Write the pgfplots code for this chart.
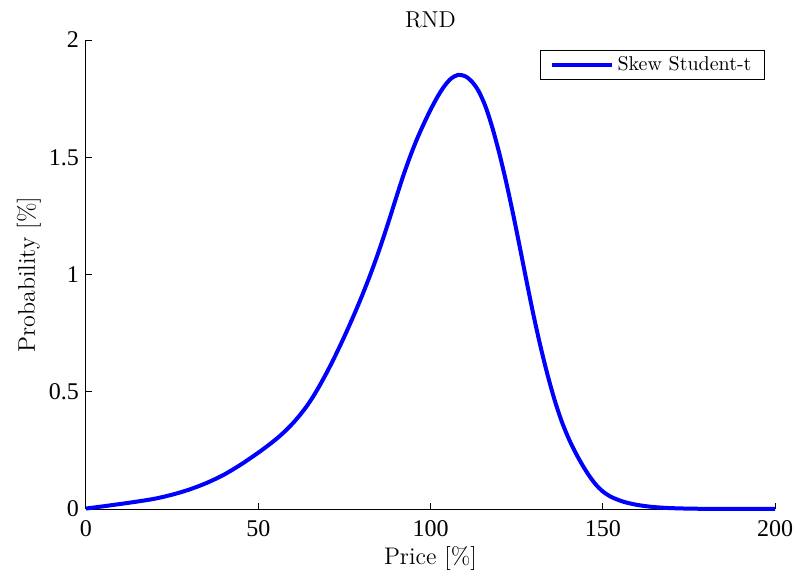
\documentclass[border=0pt]{standalone}
\usepackage{fontspec}
\newfontfamily\timesfont{Liberation Serif}
\usepackage{pgfplots}
\pgfplotsset{compat=1.18}
\begin{document}
\begin{tikzpicture}
\begin{axis}[
  scale only axis,
  width=344.5pt, height=234.5pt,
  xmin=0, xmax=200, ymin=0, ymax=2,
  axis lines=left,
  axis line style={-, line width=0.5pt},
  tick style={line width=0.5pt, black},
  tick align=inside,
  major tick length=3pt,
  xtick={0,50,100,150,200},
  ytick={0,0.5,1,1.5,2},
  yticklabels={0,0.5,1,1.5,2},
  xticklabels={0,50,100,150,200},
  /pgf/number format/assume math mode=true,
  ticklabel style={font=\timesfont\fontsize{12}{14}\selectfont},
  xticklabel style={yshift=-2.3pt},
  title={RND},
  title style={at={(axis description cs:0.5,1)}, anchor=base, yshift=0.4pt, font=\fontsize{11.5}{14}\selectfont},
  xlabel={Price [\%]},
  xlabel style={at={(axis description cs:0.5,0)}, anchor=base, yshift=-27.5pt, font=\large},
  ylabel={Probability [\%]},
  ylabel style={at={([xshift=-25.5pt]axis description cs:0,0.5)}, anchor=base, font=\large},
  clip=false,
  legend style={at={(rel axis cs:1,1)}, anchor=north east, xshift=-5pt, yshift=-5pt,
    draw=black, line width=0.5pt, font=\fontsize{10}{12}\selectfont, inner xsep=4.5pt, inner ysep=1pt},
  legend cell align=left,
  legend image code/.code={\draw[#1, line width=2pt] (0pt,0pt) -- (30pt,0pt);},
]
\coordinate (sw) at (rel axis cs:0,0);
\coordinate (ne) at (rel axis cs:1,1);
\addplot[color={rgb,255:red,0;green,0;blue,255}, line width=2pt, smooth] table {
x y
0 0.002
5 0.0115
10 0.0215
15 0.032
20 0.044
25 0.061
30 0.083
35 0.111
40 0.146
45 0.190
50 0.240
52 0.2615
54 0.284
56 0.308
58 0.335
60 0.365
62 0.399
64 0.437
66 0.481
68 0.531
70 0.585
72 0.643
74 0.704
76 0.768
78 0.835
80 0.905
82 0.979
84 1.058
86 1.143
88 1.233
90 1.326
92 1.417
94 1.500
96 1.575
98 1.641
100 1.702
102 1.757
104 1.803
106 1.836
108 1.851
110 1.846
112 1.823
114 1.781
116 1.715
118 1.624
120 1.515
122 1.392
124 1.256
126 1.111
128 0.963
130 0.820
132 0.689
134 0.571
136 0.466
138 0.377
140 0.304
142 0.243
144 0.190
146 0.143
148 0.104
150 0.075
152 0.055
154 0.0415
156 0.031
158 0.0235
160 0.0175
162 0.013
164 0.0095
166 0.007
168 0.005
170 0.0036
175 0.0016
180 0.0008
190 0.0003
200 0.0002
};
\addlegendentry{Skew Student-t}
\end{axis}
\pgfresetboundingbox
\path ([shift={(-43pt,-34.5pt)}]sw) rectangle ([shift={(11pt,20pt)}]ne);
\end{tikzpicture}
\end{document}
